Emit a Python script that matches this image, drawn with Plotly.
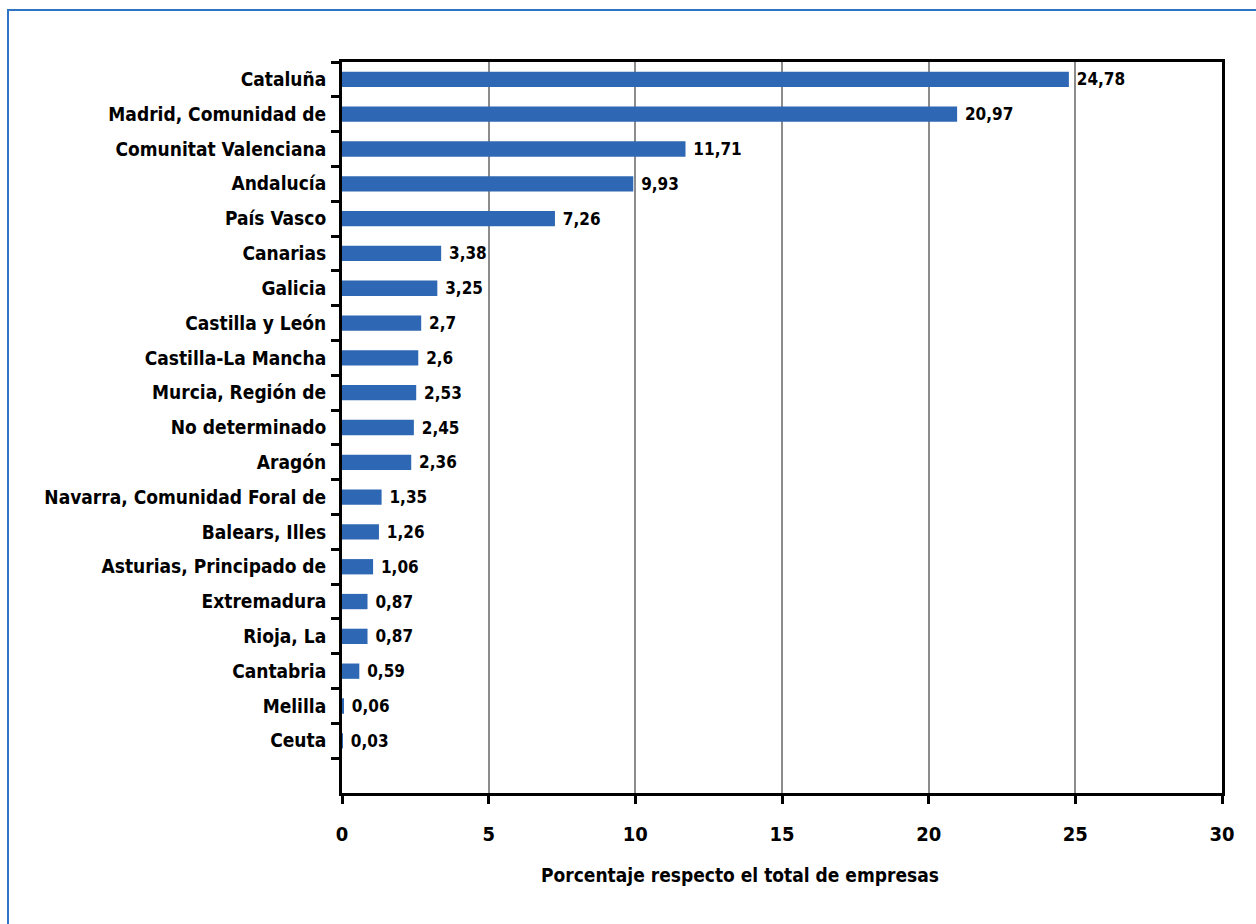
import plotly.graph_objects as go

regions = ["Cataluña", "Madrid, Comunidad de", "Comunitat Valenciana", "Andalucía",
           "País Vasco", "Canarias", "Galicia", "Castilla y León", "Castilla-La Mancha",
           "Murcia, Región de", "No determinado", "Aragón", "Navarra, Comunidad Foral de",
           "Balears, Illes", "Asturias, Principado de", "Extremadura", "Rioja, La",
           "Cantabria", "Melilla", "Ceuta"]
values = [24.78, 20.97, 11.71, 9.93, 7.26, 3.38, 3.25, 2.7, 2.6, 2.53, 2.45, 2.36,
          1.35, 1.26, 1.06, 0.87, 0.87, 0.59, 0.06, 0.03]
x_ticks = [0, 5, 10, 15, 20, 25, 30]
x_title = "Porcentaje respecto el total de empresas"

FONT = "Liberation Sans Narrow, DejaVu Sans Condensed, Arial Narrow, Roboto Condensed, sans-serif"

fig = go.Figure(go.Bar(
    x=values, y=regions, orientation="h",
    marker=dict(color="#2E67B4", line=dict(width=0)),
    texttemplate="\u00a0<b>%{x}</b>", textposition="outside", cliponaxis=False,
    constraintext="none",
    textfont=dict(family=FONT, size=17, color="black"),
))

L, R, T, B = 342, 34, 62, 131
W, H = 1256, 924
pw, ph = W - L - R, H - T - B

fig.update_layout(
    width=W, height=H, separators=",.",
    margin=dict(l=L, r=R, t=T, b=B),
    paper_bgcolor="white", plot_bgcolor="white",
    bargap=0.56, showlegend=False,
    font=dict(family=FONT, size=19, color="black"),
    xaxis=dict(range=[0, 30], tickvals=x_ticks, ticktext=[f"<b>{v}</b>" for v in x_ticks],
               showgrid=True, gridcolor="#8C8C8C", gridwidth=2, zeroline=False,
               showline=True, linecolor="black", linewidth=3, mirror=True,
               ticks="outside", ticklen=8, tickwidth=3, tickcolor="black",
               tickfont=dict(size=20), ticklabelstandoff=13),
    yaxis=dict(type="category", categoryarray=regions + [" "], range=[20.5, -0.5],
               tickvals=regions, ticktext=[f"<b>{r}</b>" for r in regions],
               tickson="boundaries", showgrid=False, zeroline=False,
               showline=True, linecolor="black", linewidth=3, mirror=True,
               ticks="outside", ticklen=8, tickwidth=3, tickcolor="black",
               tickfont=dict(size=19), ticklabelstandoff=9),
)

fig.add_annotation(text=f"<b>{x_title}</b>", xref="paper", yref="paper",
                   x=(740 - L) / pw, y=(H - B - 875) / ph, showarrow=False,
                   font=dict(size=19, family=FONT), xanchor="center", yanchor="middle")

fig.add_shape(type="rect", xref="paper", yref="paper",
              x0=(8 - L) / pw, x1=(1300 - L) / pw,
              y0=(H - B - 10) / ph, y1=(H - B - 1000) / ph,
              line=dict(color="#2E75C6", width=2), fillcolor="rgba(0,0,0,0)", layer="below")

fig.write_html("out.html", config={"displayModeBar": False},
               post_script="document.body.style.margin='0';document.body.style.overflow='hidden';")
